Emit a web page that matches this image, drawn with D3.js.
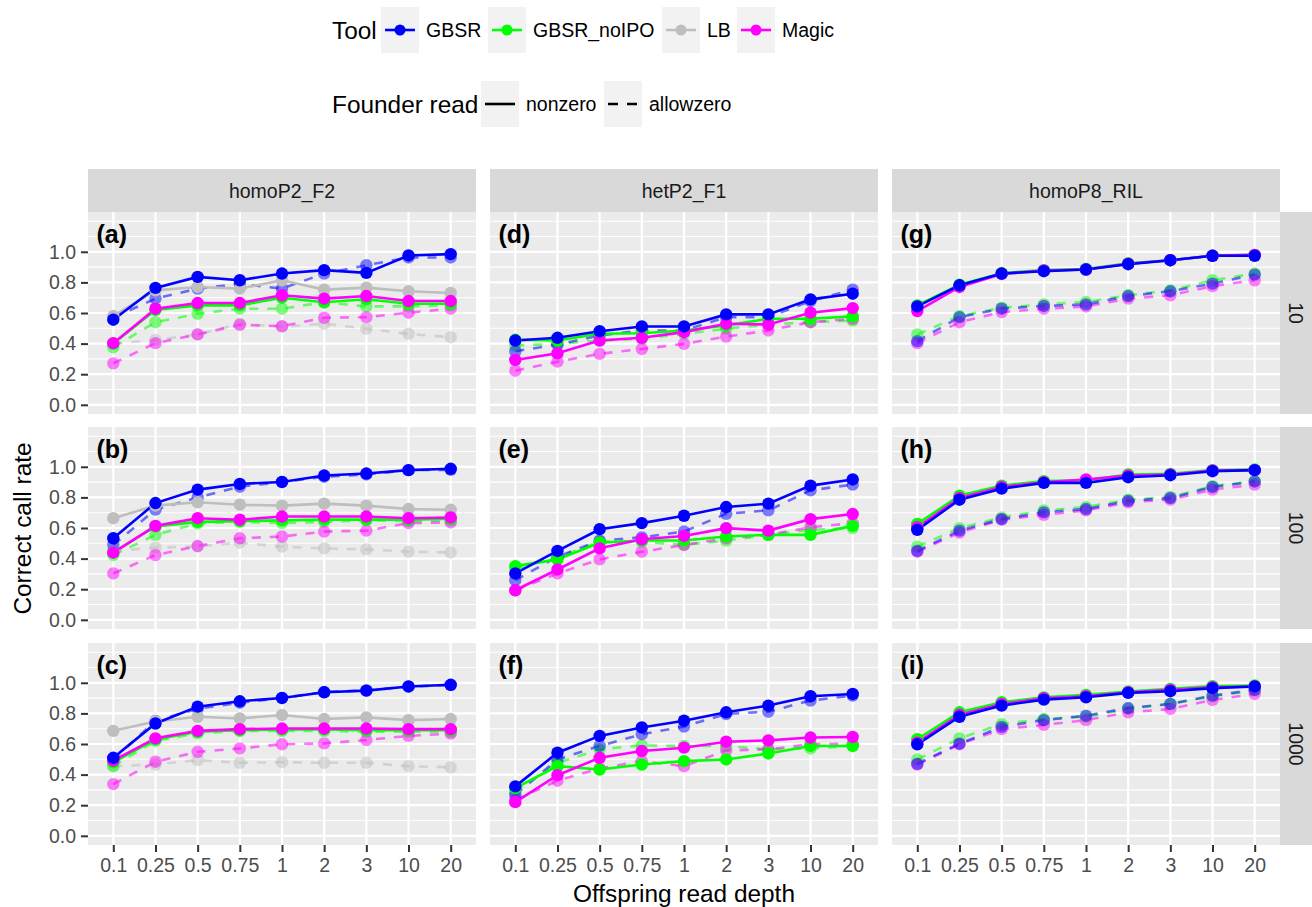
<!DOCTYPE html>
<html>
<head>
<meta charset="utf-8">
<script src="https://cdn.jsdelivr.net/npm/d3@7"></script>
<style>
  body { margin: 0; background: #fff; }
  text { font-family: "Liberation Sans", Arial, sans-serif; }
</style>
</head>
<body>
<div id="container"></div>
<script>
/* DATA */
const depths = ["0.1", "0.25", "0.5", "0.75", "1", "2", "3", "10", "20"];
const tools = ["GBSR", "GBSR_noIPO", "LB", "Magic"];
const founderReads = ["nonzero", "allowzero"];
const scenarios = ["homoP2_F2", "hetP2_F1", "homoP8_RIL"];
const founderDepths = ["10", "100", "1000"];
const yTicks = [0, 0.2, 0.4, 0.6, 0.8, 1.0];

// homoP2_F2
const panelA = [
  ["GBSR", "nonzero", [0.556, 0.764, 0.836, 0.814, 0.858, 0.880, 0.862, 0.976, 0.985]],
  ["GBSR", "allowzero", [0.570, 0.694, 0.759, 0.790, 0.760, 0.858, 0.912, 0.963, 0.963]],
  ["GBSR_noIPO", "nonzero", [0.400, 0.620, 0.650, 0.650, 0.700, 0.670, 0.690, 0.660, 0.660]],
  ["GBSR_noIPO", "allowzero", [0.376, 0.540, 0.595, 0.628, 0.628, 0.670, 0.643, 0.643, 0.650]],
  ["LB", "nonzero", [0.580, 0.748, 0.770, 0.759, 0.814, 0.753, 0.766, 0.742, 0.731]],
  ["LB", "allowzero", [0.400, 0.424, 0.460, 0.530, 0.510, 0.530, 0.497, 0.464, 0.442]],
  ["Magic", "nonzero", [0.403, 0.628, 0.665, 0.665, 0.716, 0.694, 0.711, 0.678, 0.678]],
  ["Magic", "allowzero", [0.271, 0.403, 0.460, 0.523, 0.514, 0.569, 0.573, 0.602, 0.628]]
];
const panelB = [
  ["GBSR", "nonzero", [0.533, 0.763, 0.851, 0.888, 0.901, 0.943, 0.956, 0.978, 0.987]],
  ["GBSR", "allowzero", [0.489, 0.720, 0.800, 0.870, 0.900, 0.935, 0.950, 0.978, 0.980]],
  ["GBSR_noIPO", "nonzero", [0.440, 0.610, 0.640, 0.645, 0.650, 0.655, 0.655, 0.655, 0.660]],
  ["GBSR_noIPO", "allowzero", [0.423, 0.555, 0.630, 0.640, 0.632, 0.640, 0.650, 0.645, 0.650]],
  ["LB", "nonzero", [0.664, 0.746, 0.768, 0.752, 0.746, 0.759, 0.746, 0.724, 0.719]],
  ["LB", "allowzero", [0.450, 0.471, 0.480, 0.504, 0.478, 0.467, 0.460, 0.445, 0.440]],
  ["Magic", "nonzero", [0.439, 0.614, 0.664, 0.654, 0.675, 0.675, 0.675, 0.664, 0.669]],
  ["Magic", "allowzero", [0.303, 0.423, 0.482, 0.533, 0.544, 0.577, 0.583, 0.632, 0.636]]
];
const panelC = [
  ["GBSR", "nonzero", [0.510, 0.734, 0.844, 0.879, 0.901, 0.938, 0.949, 0.976, 0.987]],
  ["GBSR", "allowzero", [0.500, 0.750, 0.830, 0.870, 0.900, 0.940, 0.950, 0.975, 0.985]],
  ["GBSR_noIPO", "nonzero", [0.480, 0.630, 0.680, 0.690, 0.695, 0.695, 0.690, 0.690, 0.690]],
  ["GBSR_noIPO", "allowzero", [0.455, 0.620, 0.670, 0.685, 0.685, 0.685, 0.680, 0.680, 0.680]],
  ["LB", "nonzero", [0.686, 0.747, 0.778, 0.767, 0.789, 0.763, 0.774, 0.756, 0.763]],
  ["LB", "allowzero", [0.455, 0.466, 0.495, 0.477, 0.481, 0.477, 0.477, 0.455, 0.448]],
  ["Magic", "nonzero", [0.492, 0.637, 0.686, 0.697, 0.701, 0.701, 0.701, 0.697, 0.697]],
  ["Magic", "allowzero", [0.338, 0.484, 0.549, 0.571, 0.598, 0.604, 0.626, 0.653, 0.668]]
];

// hetP2_F1
const panelD = [
  ["GBSR", "nonzero", [0.420, 0.438, 0.481, 0.512, 0.512, 0.591, 0.591, 0.689, 0.726]],
  ["GBSR", "allowzero", [0.350, 0.394, 0.453, 0.486, 0.486, 0.573, 0.573, 0.678, 0.753]],
  ["GBSR_noIPO", "nonzero", [0.425, 0.420, 0.464, 0.468, 0.486, 0.519, 0.562, 0.562, 0.578]],
  ["GBSR_noIPO", "allowzero", [0.387, 0.398, 0.420, 0.431, 0.464, 0.497, 0.525, 0.540, 0.551]],
  ["Magic", "nonzero", [0.293, 0.337, 0.420, 0.438, 0.475, 0.530, 0.525, 0.602, 0.632]],
  ["Magic", "allowzero", [0.223, 0.282, 0.333, 0.365, 0.398, 0.446, 0.486, 0.540, 0.562]]
];
const panelE = [
  ["GBSR", "nonzero", [0.303, 0.450, 0.592, 0.632, 0.680, 0.737, 0.759, 0.877, 0.917]],
  ["GBSR", "allowzero", [0.259, 0.412, 0.518, 0.539, 0.577, 0.693, 0.715, 0.846, 0.884]],
  ["GBSR_noIPO", "nonzero", [0.351, 0.395, 0.504, 0.518, 0.518, 0.544, 0.555, 0.555, 0.614]],
  ["GBSR_noIPO", "allowzero", [0.336, 0.408, 0.511, 0.511, 0.489, 0.518, 0.555, 0.588, 0.600]],
  ["Magic", "nonzero", [0.193, 0.329, 0.467, 0.526, 0.548, 0.599, 0.583, 0.658, 0.691]],
  ["Magic", "allowzero", [0.193, 0.303, 0.395, 0.445, 0.489, 0.533, 0.555, 0.605, 0.632]]
];
const panelF = [
  ["GBSR", "nonzero", [0.323, 0.543, 0.653, 0.708, 0.752, 0.807, 0.851, 0.912, 0.927]],
  ["GBSR", "allowzero", [0.268, 0.499, 0.587, 0.664, 0.714, 0.796, 0.811, 0.884, 0.916]],
  ["GBSR_noIPO", "nonzero", [0.312, 0.455, 0.433, 0.466, 0.488, 0.499, 0.538, 0.587, 0.587]],
  ["GBSR_noIPO", "allowzero", [0.290, 0.477, 0.565, 0.591, 0.587, 0.587, 0.565, 0.571, 0.587]],
  ["Magic", "nonzero", [0.220, 0.396, 0.510, 0.554, 0.576, 0.615, 0.624, 0.642, 0.646]],
  ["Magic", "allowzero", [0.235, 0.360, 0.440, 0.488, 0.455, 0.558, 0.565, 0.598, 0.602]]
];

// homoP8_RIL
const panelG = [
  ["GBSR", "nonzero", [0.643, 0.781, 0.858, 0.873, 0.884, 0.919, 0.945, 0.974, 0.974]],
  ["GBSR", "allowzero", [0.416, 0.573, 0.628, 0.646, 0.656, 0.711, 0.742, 0.792, 0.851]],
  ["GBSR_noIPO", "nonzero", [0.650, 0.785, 0.860, 0.880, 0.888, 0.925, 0.945, 0.975, 0.980]],
  ["GBSR_noIPO", "allowzero", [0.460, 0.580, 0.635, 0.656, 0.672, 0.716, 0.748, 0.814, 0.858]],
  ["Magic", "nonzero", [0.613, 0.770, 0.855, 0.878, 0.884, 0.922, 0.945, 0.974, 0.980]],
  ["Magic", "allowzero", [0.403, 0.540, 0.606, 0.628, 0.643, 0.694, 0.716, 0.775, 0.814]]
];
const panelH = [
  ["GBSR", "nonzero", [0.588, 0.785, 0.857, 0.895, 0.895, 0.932, 0.945, 0.971, 0.978]],
  ["GBSR", "allowzero", [0.450, 0.583, 0.658, 0.702, 0.724, 0.778, 0.796, 0.868, 0.904]],
  ["GBSR_noIPO", "nonzero", [0.627, 0.811, 0.877, 0.906, 0.912, 0.950, 0.954, 0.978, 0.982]],
  ["GBSR_noIPO", "allowzero", [0.478, 0.599, 0.669, 0.715, 0.737, 0.785, 0.803, 0.873, 0.906]],
  ["Magic", "nonzero", [0.605, 0.796, 0.868, 0.899, 0.917, 0.943, 0.950, 0.976, 0.978]],
  ["Magic", "allowzero", [0.445, 0.570, 0.654, 0.686, 0.715, 0.768, 0.785, 0.851, 0.884]]
];
const panelI = [
  ["GBSR", "nonzero", [0.598, 0.778, 0.851, 0.890, 0.905, 0.934, 0.945, 0.965, 0.976]],
  ["GBSR", "allowzero", [0.470, 0.602, 0.712, 0.756, 0.785, 0.835, 0.862, 0.916, 0.954]],
  ["GBSR_noIPO", "nonzero", [0.631, 0.807, 0.873, 0.905, 0.921, 0.943, 0.960, 0.978, 0.982]],
  ["GBSR_noIPO", "allowzero", [0.499, 0.637, 0.730, 0.763, 0.778, 0.829, 0.862, 0.912, 0.949]],
  ["Magic", "nonzero", [0.609, 0.791, 0.862, 0.899, 0.912, 0.938, 0.954, 0.971, 0.976]],
  ["Magic", "allowzero", [0.466, 0.598, 0.697, 0.725, 0.756, 0.807, 0.829, 0.888, 0.927]]
];

// panels listed row by row: [row][col]
const panelGrid = [
  [panelA, panelD, panelG],
  [panelB, panelE, panelH],
  [panelC, panelF, panelI]
];
const panelTags = [["(a)", "(d)", "(g)"], ["(b)", "(e)", "(h)"], ["(c)", "(f)", "(i)"]];

/* CONSTANTS AND GLOBALS */
const width = 1312, height = 907;
const plotW = 388, plotH = 202;
const colX = [88, 490, 892];
const rowY = [212, 427, 643];
const stripTop = 169, stripRightW = 32;
const drawOrder = ["LB", "GBSR_noIPO", "Magic", "GBSR"];

const color = d3.scaleOrdinal()
  .domain(tools)
  .range(["#0000FF", "#00FF00", "#BEBEBE", "#FF00FF"]);

// SCALES
const xScale = d3.scalePoint()
  .domain(depths)
  .range([0, plotW])
  .padding(0.6);

const yScale = d3.scaleLinear()
  .domain([-0.06, 1.26])
  .range([plotH, 0]);

// CREATE SVG ELEMENT
const svg = d3.select("#container")
  .append("svg")
  .attr("width", width)
  .attr("height", height);

svg.append("rect").attr("width", width).attr("height", height).attr("fill", "#fff");

const lineGen = d3.line()
  .x((d, i) => xScale(depths[i]))
  .y(d => yScale(d));

// sort series so dashed sit below solid, then by tool order
function orderSeries(series) {
  return series.slice().sort((a, b) => {
    const fa = a[1] === "allowzero" ? 0 : 1, fb = b[1] === "allowzero" ? 0 : 1;
    if (fa !== fb) return fa - fb;
    return drawOrder.indexOf(a[0]) - drawOrder.indexOf(b[0]);
  });
}

// DRAW PANELS
panelGrid.forEach((row, r) => {
  row.forEach((series, c) => {
    const g = svg.append("g").attr("transform", `translate(${colX[c]},${rowY[r]})`);

    g.append("rect")
      .attr("width", plotW)
      .attr("height", plotH)
      .attr("fill", "#EBEBEB");

    // minor grid
    const minor = d3.range(1, 12, 2).map(d => d / 10).concat([1.2]);
    g.selectAll(".minor")
      .data(minor)
      .join("line")
      .attr("x1", 0).attr("x2", plotW)
      .attr("y1", d => yScale(d)).attr("y2", d => yScale(d))
      .attr("stroke", "#fff").attr("stroke-width", 1.1);

    // major grid
    g.selectAll(".majorY")
      .data(yTicks)
      .join("line")
      .attr("x1", 0).attr("x2", plotW)
      .attr("y1", d => yScale(d)).attr("y2", d => yScale(d))
      .attr("stroke", "#fff").attr("stroke-width", 2.2);

    g.selectAll(".majorX")
      .data(depths)
      .join("line")
      .attr("x1", d => xScale(d)).attr("x2", d => xScale(d))
      .attr("y1", 0).attr("y2", plotH)
      .attr("stroke", "#fff").attr("stroke-width", 2.2);

    const ordered = orderSeries(series);

    // lines
    g.selectAll(".line")
      .data(ordered)
      .join("path")
      .attr("d", d => lineGen(d[2]))
      .attr("fill", "none")
      .attr("stroke", d => color(d[0]))
      .attr("stroke-width", 2.6)
      .attr("stroke-opacity", d => d[1] === "allowzero" ? 0.55 : 1)
      .attr("stroke-dasharray", d => d[1] === "allowzero" ? "9,9" : null);

    // points
    ordered.forEach(s => {
      g.selectAll(null)
        .data(s[2])
        .join("circle")
        .attr("cx", (d, i) => xScale(depths[i]))
        .attr("cy", d => yScale(d))
        .attr("r", 6.2)
        .attr("fill", color(s[0]))
        .attr("fill-opacity", s[1] === "allowzero" ? 0.5 : 1);
    });

    // panel tag
    g.append("text")
      .attr("x", xScale(depths[0]) - 0.4 * xScale.step())
      .attr("y", yScale(1.06))
      .attr("font-size", 25)
      .attr("font-weight", "bold")
      .attr("fill", "#000")
      .text(panelTags[r][c]);

    // AXES
    if (c === 0) {
      const yAxis = g.append("g")
        .call(d3.axisLeft(yScale).tickValues(yTicks).tickFormat(d3.format(".1f")).tickSize(7).tickPadding(5));
      yAxis.select(".domain").remove();
      yAxis.selectAll("line").attr("stroke", "#333").attr("stroke-width", 2);
      yAxis.selectAll("text").attr("fill", "#4D4D4D").attr("font-size", 19.5)
        .attr("font-family", "'Liberation Sans', Arial, sans-serif");
    }
    if (r === 2) {
      const xAxis = g.append("g")
        .attr("transform", `translate(0,${plotH})`)
        .call(d3.axisBottom(xScale).tickSize(7).tickPadding(6));
      xAxis.select(".domain").remove();
      xAxis.selectAll("line").attr("stroke", "#333").attr("stroke-width", 2);
      xAxis.selectAll("text").attr("fill", "#4D4D4D").attr("font-size", 19.5)
        .attr("font-family", "'Liberation Sans', Arial, sans-serif");
    }
  });
});

// STRIPS
scenarios.forEach((s, c) => {
  svg.append("rect")
    .attr("x", colX[c]).attr("y", stripTop)
    .attr("width", plotW).attr("height", rowY[0] - stripTop)
    .attr("fill", "#D9D9D9");
  svg.append("text")
    .attr("x", colX[c] + plotW / 2)
    .attr("y", (stripTop + rowY[0]) / 2 + 7)
    .attr("text-anchor", "middle")
    .attr("font-size", 19.5)
    .attr("fill", "#1A1A1A")
    .text(s);
});

founderDepths.forEach((f, r) => {
  const sx = colX[2] + plotW;
  svg.append("rect")
    .attr("x", sx).attr("y", rowY[r])
    .attr("width", stripRightW).attr("height", plotH)
    .attr("fill", "#D9D9D9");
  svg.append("text")
    .attr("transform", `translate(${sx + stripRightW / 2 - 7},${rowY[r] + plotH / 2}) rotate(90)`)
    .attr("text-anchor", "middle")
    .attr("font-size", 19.5)
    .attr("fill", "#1A1A1A")
    .text(f);
});

// AXIS TITLES
svg.append("text")
  .attr("x", (colX[0] + colX[2] + plotW) / 2)
  .attr("y", 902)
  .attr("text-anchor", "middle")
  .attr("font-size", 24.4)
  .text("Offspring read depth");

svg.append("text")
  .attr("transform", `translate(31,${(rowY[0] + rowY[2] + plotH) / 2}) rotate(-90)`)
  .attr("text-anchor", "middle")
  .attr("font-size", 24.4)
  .text("Correct call rate");

// LEGEND
const toolKeys = [381, 488, 662, 737];
const keyW = 38, keyH = 46;

svg.append("text").attr("x", 332).attr("y", 39).attr("font-size", 24.4).text("Tool");
tools.forEach((t, i) => {
  const kx = toolKeys[i], ky = 7;
  svg.append("rect").attr("x", kx).attr("y", ky).attr("width", keyW).attr("height", keyH).attr("fill", "#F2F2F2");
  svg.append("line")
    .attr("x1", kx + 4).attr("x2", kx + keyW - 4)
    .attr("y1", ky + keyH / 2).attr("y2", ky + keyH / 2)
    .attr("stroke", color(t)).attr("stroke-width", 2.6);
  svg.append("circle").attr("cx", kx + keyW / 2).attr("cy", ky + keyH / 2).attr("r", 5.5).attr("fill", color(t));
  svg.append("text").attr("x", kx + keyW + 7).attr("y", ky + keyH / 2 + 7).attr("font-size", 19.5).text(t);
});

const founderKeys = [481, 604];
svg.append("text").attr("x", 332).attr("y", 113).attr("font-size", 24.4).text("Founder read");
founderReads.forEach((f, i) => {
  const kx = founderKeys[i], ky = 81;
  svg.append("rect").attr("x", kx).attr("y", ky).attr("width", keyW).attr("height", keyH).attr("fill", "#F2F2F2");
  svg.append("line")
    .attr("x1", kx + 4).attr("x2", kx + keyW - 4)
    .attr("y1", ky + keyH / 2).attr("y2", ky + keyH / 2)
    .attr("stroke", "#000").attr("stroke-width", 2.6)
    .attr("stroke-dasharray", f === "allowzero" ? "10,9" : null);
  svg.append("text").attr("x", kx + keyW + 7).attr("y", ky + keyH / 2 + 7).attr("font-size", 19.5).text(f);
});
</script>
</body>
</html>
